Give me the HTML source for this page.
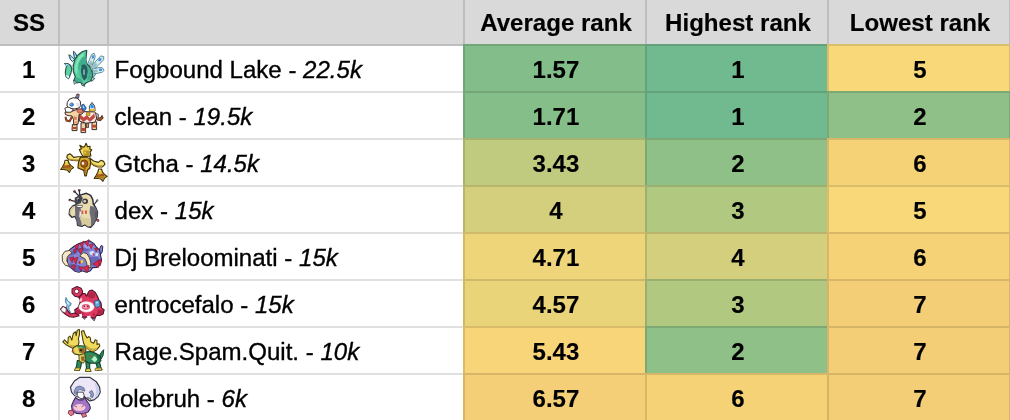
<!DOCTYPE html><html><head><meta charset="utf-8"><title>SS</title><style>
html,body{margin:0;padding:0;background:#fff;}
body{width:1010px;height:420px;overflow:hidden;position:relative;font-family:"Liberation Sans",Arial,sans-serif;font-size:24.15px;color:#000;}
.c{position:absolute;box-sizing:border-box;white-space:nowrap;overflow:hidden;}
.c span{display:block;will-change:transform;}
.h span{transform:translate(1.0px,-0.5px);font-size:24.08px;-webkit-text-stroke:0.15px #000;}
.n span{transform:translate(0.9px,0.8px);font-size:24px;-webkit-text-stroke:0.15px #000;}
.t span{font-size:24.05px;transform:translate(0.6px,0.8px);-webkit-text-stroke:0.35px #000;}
.h{background:#d9d9d9;font-weight:bold;text-align:center;}
.n{font-weight:bold;text-align:center;}
.t{text-align:left;padding-left:6px;}
.v{position:absolute;width:2px;background:rgba(0,0,0,0.12);}
.hl{position:absolute;left:0;width:1010px;height:2px;background:rgba(0,0,0,0.12);}
.bg{position:absolute;}
</style></head><body>
<div class="c h" style="left:0;top:0;width:1010px;height:46px"></div>
<div class="c h" style="left:0px;top:0;width:56px;height:45px;line-height:45px"><span>SS</span></div>
<div class="c h" style="left:464px;top:0;width:182px;height:45px;line-height:45px"><span>Average rank</span></div>
<div class="c h" style="left:646px;top:0;width:182px;height:45px;line-height:45px"><span>Highest rank</span></div>
<div class="c h" style="left:828px;top:0;width:182px;height:45px;line-height:45px"><span>Lowest rank</span></div>
<div class="c n" style="left:0px;top:45px;width:55.4px;height:47px;line-height:47px;"><span>1</span></div>
<svg style="position:absolute;left:60px;top:46px;overflow:visible" width="48" height="46" viewBox="0 0 438 420"><g style="filter:blur(0.35px)"><polygon points="288,246 332,246 312,278 284,272" fill="#a8d4d4" stroke="#4f7f88" stroke-width="8" stroke-linejoin="round"/><polygon points="252,168 270,120 290,76 312,66 322,96 306,142 290,188" fill="#d4eeee" stroke="#4f7f88" stroke-width="8" stroke-linejoin="round"/><polygon points="280,192 330,136 372,90 400,98 398,126 350,176 306,218" fill="#d4eeee" stroke="#4f7f88" stroke-width="8" stroke-linejoin="round"/><polygon points="294,212 346,198 386,198 402,222 386,240 336,250 300,256" fill="#d4eeee" stroke="#4f7f88" stroke-width="8" stroke-linejoin="round"/><polygon points="262,170 282,130 296,150 288,186" fill="#8fbfc2"/><polygon points="288,196 326,150 340,170 308,212" fill="#8fbfc2"/><polygon points="300,222 340,212 344,236 304,250" fill="#8fbfc2"/><polygon points="290,88 312,82 310,112 292,116" fill="#4c8fe6"/><polygon points="352,114 380,108 374,140 350,138" fill="#4c8fe6"/><polygon points="356,206 386,208 382,228 356,228" fill="#4c8fe6"/><polygon points="80,80 106,94 132,124 112,142 92,118" fill="#c8eef0" stroke="#27524f" stroke-width="9" stroke-linejoin="round"/><polygon points="122,48 140,62 156,100 134,114 125,80" fill="#c8eef0" stroke="#27524f" stroke-width="9" stroke-linejoin="round"/><polygon points="90,96 104,104 100,120 88,112" fill="#4c8fe6"/><polygon points="128,66 142,76 140,94 128,88" fill="#4c8fe6"/><polygon points="42,160 70,160 98,178 108,210 100,246 88,276 78,298 55,282 48,240 55,200 60,182" fill="#5fd0a0" stroke="#27524f" stroke-width="10" stroke-linejoin="round"/><polygon points="46,162 72,164 84,178 62,186" fill="#cdeef0"/><polygon points="62,170 78,172 74,186 62,184" fill="#4c8fe6"/><polygon points="56,262 84,272 78,296 58,282" fill="#cdeef0"/><polygon points="244,40 206,50 166,80 136,124 120,180 122,235 140,280 128,312 152,336 186,330 212,362 240,336 276,320 298,284 292,236 272,192 246,166 236,130 240,90" fill="#5ccc9e" stroke="#27524f" stroke-width="11" stroke-linejoin="round"/><polygon points="210,64 168,100 144,150 136,210 148,262 160,222 162,170 182,120 220,82" fill="#7fe6b8"/><polygon points="240,90 236,130 246,166 216,170 186,186 176,230 164,204 174,150 204,104" fill="#3fae8c"/><polygon points="250,185 280,215 288,260 272,305 245,320 258,270 258,225" fill="#3fae8c"/><polygon points="150,285 190,300 215,330 186,328 152,330 134,310" fill="#3fae8c"/><polygon points="196,180 222,168 244,186 250,230 242,292 220,312 200,284 190,232" fill="#245f62" stroke="#27524f" stroke-width="6" stroke-linejoin="round"/><polygon points="210,214 228,214 228,262 210,262" fill="#6faab0"/><polygon points="180,190 196,182 190,232 200,284 214,308 190,296 172,250" fill="#4cc096"/><polygon points="122,312 152,328 132,350" fill="#dff5f0" stroke="#27524f" stroke-width="8" stroke-linejoin="round"/><polygon points="204,338 228,368 198,358" fill="#dff5f0" stroke="#27524f" stroke-width="8" stroke-linejoin="round"/><polygon points="284,284 318,296 290,324" fill="#9fd8d0" stroke="#27524f" stroke-width="8" stroke-linejoin="round"/></g></svg>
<div class="c t" style="left:108px;top:45px;width:356px;height:47px;line-height:47px;"><span>Fogbound Lake - <i>22.5k</i></span></div>
<div class="bg" style="left:463px;top:44px;width:182px;height:47px;background:#82bd8a"></div>
<div class="c n" style="left:464px;top:45px;width:182px;height:47px;line-height:47px;"><span>1.57</span></div>
<div class="bg" style="left:645px;top:44px;width:182px;height:47px;background:#71b98e"></div>
<div class="c n" style="left:646px;top:45px;width:182px;height:47px;line-height:47px;"><span>1</span></div>
<div class="bg" style="left:827px;top:44px;width:184px;height:47px;background:#f8d878"></div>
<div class="c n" style="left:828px;top:45px;width:182px;height:47px;line-height:47px;"><span>5</span></div>
<div class="c n" style="left:0px;top:92px;width:55.4px;height:47px;line-height:47px;"><span>2</span></div>
<svg style="position:absolute;left:62px;top:93px;overflow:visible" width="44" height="42" viewBox="0 0 440 420"><g style="filter:blur(0.35px)"><polygon points="350,245 384,250 400,224 412,250 386,278 350,270" fill="#a85428" stroke="#4a2410" stroke-width="9" stroke-linejoin="round"/><polygon points="334,198 366,214 360,262 336,256" fill="#b4b4b8" stroke="#4a4a50" stroke-width="8" stroke-linejoin="round"/><polygon points="104,315 150,315 150,376 100,376" fill="#f3cfa0" stroke="#3a2c2c" stroke-width="10" stroke-linejoin="round"/><polygon points="104,340 150,340 150,360 102,360" fill="#b84a34"/><polygon points="244,298 266,298 266,346 244,346" fill="#c89870" stroke="#3a2c2c" stroke-width="8" stroke-linejoin="round"/><polygon points="190,298 236,298 236,396 190,396" fill="#f3cfa0" stroke="#3a2c2c" stroke-width="10" stroke-linejoin="round"/><polygon points="191,350 235,350 235,380 191,380" fill="#b84a34"/><polygon points="300,288 346,288 346,366 300,366" fill="#f3cfa0" stroke="#3a2c2c" stroke-width="10" stroke-linejoin="round"/><polygon points="301,318 345,318 345,346 301,346" fill="#b84a34"/><polygon points="178,198 230,186 330,190 346,250 330,292 240,302 176,282" fill="#fbeee6" stroke="#3a2c2c" stroke-width="10" stroke-linejoin="round"/><polygon points="176,208 216,244 250,220 276,250 322,206 330,244 280,290 250,262 216,290 176,252" fill="#c04a40"/><polygon points="300,196 330,196 340,236 322,214" fill="#e8b090"/><polygon points="244,194 280,198 278,226 244,220" fill="#f0b820" stroke="#805010" stroke-width="6" stroke-linejoin="round"/><polygon points="198,120 216,112 242,150 226,178 198,162" fill="#2f8fe8" stroke="#1c3c70" stroke-width="9" stroke-linejoin="round"/><polygon points="206,130 216,126 226,148 212,150" fill="#a8d8ff"/><polygon points="274,132 300,94 326,130 332,178 274,178" fill="#ffffff" stroke="#3a2c2c" stroke-width="9" stroke-linejoin="round"/><polygon points="284,126 300,104 318,130 318,152 284,152" fill="#2f8fe8"/><polygon points="276,160 330,160 331,178 276,178" fill="#f0c020"/><polygon points="30,190 90,186 150,164 196,160 216,186 200,210 170,216 166,260 160,312 118,320 114,262 100,230 60,226 34,214" fill="#f5d2a0" stroke="#3a2c2c" stroke-width="10" stroke-linejoin="round"/><polygon points="150,162 200,160 208,190 172,202 152,190" fill="#e07a68" stroke="#8a3028" stroke-width="6" stroke-linejoin="round"/><polygon points="118,232 150,240 146,272 120,266" fill="#d8805c"/><polygon points="124,285 156,280 154,305 122,308" fill="#e0a078"/><polyline points="36,246 46,276 76,282 96,246" fill="none" stroke="#4a2410" stroke-width="20" stroke-linecap="round" stroke-linejoin="round"/><polyline points="36,246 46,276 76,282 96,246" fill="none" stroke="#a85428" stroke-width="11" stroke-linecap="round" stroke-linejoin="round"/><polygon points="134,48 150,10 172,14 166,52" fill="#d9534a" stroke="#3a2c2c" stroke-width="8" stroke-linejoin="round"/><polygon points="144,26 168,24 166,40 140,42" fill="#3d8ee0"/><polygon points="52,96 70,64 110,48 150,52 182,80 188,124 170,150 120,160 70,150 50,130" fill="#ffffff" stroke="#3a2c2c" stroke-width="10" stroke-linejoin="round"/><polygon points="28,152 60,140 112,164 92,192 40,192" fill="#ffffff" stroke="#3a2c2c" stroke-width="9" stroke-linejoin="round"/><ellipse cx="96" cy="116" rx="19" ry="17" fill="#2f8fe8" stroke="#1c3c70" stroke-width="6"/><ellipse cx="88" cy="110" rx="6" ry="5" fill="#ffffff"/><polygon points="140,100 176,96 180,130 150,140" fill="#e4e4ec"/></g></svg>
<div class="c t" style="left:108px;top:92px;width:356px;height:47px;line-height:47px;"><span>clean - <i>19.5k</i></span></div>
<div class="bg" style="left:463px;top:91px;width:182px;height:47px;background:#86be89"></div>
<div class="c n" style="left:464px;top:92px;width:182px;height:47px;line-height:47px;"><span>1.71</span></div>
<div class="bg" style="left:645px;top:91px;width:182px;height:47px;background:#71b98e"></div>
<div class="c n" style="left:646px;top:92px;width:182px;height:47px;line-height:47px;"><span>1</span></div>
<div class="bg" style="left:827px;top:91px;width:184px;height:47px;background:#8fc087"></div>
<div class="c n" style="left:828px;top:92px;width:182px;height:47px;line-height:47px;"><span>2</span></div>
<div class="c n" style="left:0px;top:139px;width:55.4px;height:47px;line-height:47px;"><span>3</span></div>
<svg style="position:absolute;left:58px;top:140px;overflow:visible" width="50" height="44" viewBox="0 0 477 420"><g style="filter:blur(0.35px)"><polygon points="236,160 190,160 150,166 132,146 112,132 88,146 84,166 100,186 140,196 190,198 226,192" fill="#f0e070" stroke="#3e300a" stroke-width="11" stroke-linejoin="round"/><polygon points="104,176 140,184 190,186 228,180 226,192 190,198 140,196 100,188" fill="#b08c28"/><polygon points="304,174 340,200 384,214 408,194 436,204 448,232 424,256 380,258 340,242 304,216" fill="#f0e070" stroke="#3e300a" stroke-width="11" stroke-linejoin="round"/><polygon points="308,204 342,228 382,244 424,240 424,256 380,258 340,242 304,216" fill="#b08c28"/><polygon points="214,164 300,164 312,214 302,270 282,286 270,342 256,342 246,290 214,276 190,266 196,214" fill="#d8ac2c" stroke="#3e300a" stroke-width="11" stroke-linejoin="round"/><ellipse cx="250" cy="226" rx="34" ry="36" fill="#a85a18" stroke="#4e2a0a" stroke-width="7"/><ellipse cx="238" cy="224" rx="12" ry="13" fill="#ffffff"/><polygon points="246,262 264,262 264,322 252,322" fill="#a85a18"/><polygon points="204,92 224,84 208,50 240,70 254,62 268,32 282,64 306,60 304,86 322,94 306,116 314,152 240,158 222,130" fill="#e8cc48" stroke="#3e300a" stroke-width="11" stroke-linejoin="round"/><polygon points="238,100 300,100 302,150 242,154" fill="#b8922c"/><polygon points="222,96 240,98 242,150 228,130" fill="#f8e880"/><polygon points="250,112 268,110 268,128 250,128" fill="#e8cc48"/><ellipse cx="294" cy="166" rx="10" ry="12" fill="#d8d0a8" stroke="#3e300a" stroke-width="6"/><polygon points="68,194 96,194 104,222 122,242 148,264 126,276 108,310 88,288 58,280 26,282 42,258 60,224" fill="#e8cc48" stroke="#3e300a" stroke-width="11" stroke-linejoin="round"/><polygon points="52,240 116,238 128,264 42,268" fill="#9c5416"/><polygon points="58,242 88,240 88,252 54,254" fill="#c07828"/><polygon points="42,270 128,266 142,266 124,274 108,304 88,286 58,278 32,280" fill="#a88424"/><ellipse cx="79" cy="206" rx="9" ry="9" fill="#f8ec90"/><polygon points="388,278 416,278 424,306 442,326 468,348 446,360 428,394 408,372 378,364 346,366 362,342 380,308" fill="#e8cc48" stroke="#3e300a" stroke-width="11" stroke-linejoin="round"/><polygon points="372,324 436,322 448,348 362,352" fill="#9c5416"/><polygon points="378,326 408,324 408,336 374,338" fill="#c07828"/><polygon points="362,354 448,350 462,350 444,358 428,388 408,370 378,362 352,364" fill="#a88424"/><ellipse cx="399" cy="290" rx="9" ry="9" fill="#f8ec90"/></g></svg>
<div class="c t" style="left:108px;top:139px;width:356px;height:47px;line-height:47px;"><span>Gtcha - <i>14.5k</i></span></div>
<div class="bg" style="left:463px;top:138px;width:182px;height:47px;background:#c0cb7f"></div>
<div class="c n" style="left:464px;top:139px;width:182px;height:47px;line-height:47px;"><span>3.43</span></div>
<div class="bg" style="left:645px;top:138px;width:182px;height:47px;background:#8fc087"></div>
<div class="c n" style="left:646px;top:139px;width:182px;height:47px;line-height:47px;"><span>2</span></div>
<div class="bg" style="left:827px;top:138px;width:184px;height:47px;background:#f6d277"></div>
<div class="c n" style="left:828px;top:139px;width:182px;height:47px;line-height:47px;"><span>6</span></div>
<div class="c n" style="left:0px;top:186px;width:55.4px;height:47px;line-height:47px;"><span>4</span></div>
<svg style="position:absolute;left:64px;top:187px;overflow:visible" width="40" height="44" viewBox="0 0 382 420"><g style="filter:blur(0.35px)"><polyline points="140,84 102,44" fill="none" stroke="#2e2e38" stroke-width="12" stroke-linecap="round" stroke-linejoin="round"/><polyline points="150,78 146,34" fill="none" stroke="#2e2e38" stroke-width="12" stroke-linecap="round" stroke-linejoin="round"/><polyline points="112,140 58,126" fill="none" stroke="#2e2e38" stroke-width="12" stroke-linecap="round" stroke-linejoin="round"/><polyline points="284,172 316,130" fill="none" stroke="#2e2e38" stroke-width="11" stroke-linecap="round" stroke-linejoin="round"/><polyline points="294,308 326,320" fill="none" stroke="#2e2e38" stroke-width="11" stroke-linecap="round" stroke-linejoin="round"/><ellipse cx="100" cy="42" rx="12" ry="12" fill="#3a3038"/><ellipse cx="106" cy="36" rx="6" ry="6" fill="#e06a58"/><ellipse cx="146" cy="30" rx="12" ry="12" fill="#3a3038"/><ellipse cx="150" cy="26" rx="6" ry="6" fill="#e06a58"/><ellipse cx="56" cy="124" rx="13" ry="13" fill="#3a3038"/><ellipse cx="60" cy="128" rx="7" ry="7" fill="#e06a58"/><ellipse cx="318" cy="128" rx="9" ry="9" fill="#9a98a4" stroke="#2e2e38" stroke-width="4"/><ellipse cx="324" cy="320" rx="11" ry="11" fill="#e03838" stroke="#2e2e38" stroke-width="5"/><polygon points="160,75 215,60 255,80 275,120 280,165 300,190 320,240 315,290 300,320 285,350 255,385 225,380 200,360 170,375 130,365 125,320 105,280 75,290 50,260 55,215 85,180 115,170 125,130 135,95" fill="#e8dcb0" stroke="#2e2e38" stroke-width="14" stroke-linejoin="round"/><polygon points="104,100 160,76 180,104 160,156 116,172 100,142" fill="#44444e"/><polygon points="120,110 140,100 146,120 128,132" fill="#a0a0a8"/><polygon points="104,182 156,186 166,250 156,300 172,340 174,374 130,366 124,320 108,282" fill="#6e6a76"/><polygon points="250,180 300,194 320,240 314,292 300,320 286,348 256,382 256,300 244,240" fill="#6e6a76"/><polygon points="296,230 318,244 312,292 296,300" fill="#5a5862"/><polygon points="56,216 84,184 100,190 74,222 62,262 52,258" fill="#d4c89c"/><polygon points="150,292 250,300 252,372 226,376 200,356 170,370 166,340" fill="#d8cc9e"/><ellipse cx="202" cy="136" rx="27" ry="26" fill="#3a3a44"/><ellipse cx="198" cy="136" rx="13" ry="12" fill="#e0d8b4"/><ellipse cx="140" cy="124" rx="9" ry="10" fill="#22222a"/><polygon points="122,176 176,176 172,196 126,196" fill="#ffffff" stroke="#2e2e38" stroke-width="6" stroke-linejoin="round"/><polygon points="166,224 186,224 184,258 168,258" fill="#e05a48"/><polygon points="200,224 220,224 218,258 202,258" fill="#e05a48"/><polygon points="148,226 166,236 162,288 144,288" fill="#f4f4f4" stroke="#8a8890" stroke-width="4" stroke-linejoin="round"/></g></svg>
<div class="c t" style="left:108px;top:186px;width:356px;height:47px;line-height:47px;"><span>dex - <i>15k</i></span></div>
<div class="bg" style="left:463px;top:185px;width:182px;height:47px;background:#d4cf7c"></div>
<div class="c n" style="left:464px;top:186px;width:182px;height:47px;line-height:47px;"><span>4</span></div>
<div class="bg" style="left:645px;top:185px;width:182px;height:47px;background:#b1c881"></div>
<div class="c n" style="left:646px;top:186px;width:182px;height:47px;line-height:47px;"><span>3</span></div>
<div class="bg" style="left:827px;top:185px;width:184px;height:47px;background:#f8d878"></div>
<div class="c n" style="left:828px;top:186px;width:182px;height:47px;line-height:47px;"><span>5</span></div>
<div class="c n" style="left:0px;top:233px;width:55.4px;height:47px;line-height:47px;"><span>5</span></div>
<svg style="position:absolute;left:58px;top:236px;overflow:visible" width="50" height="44" viewBox="0 0 477 420"><g style="filter:blur(0.35px)"><polygon points="392,134 412,90 428,98 422,152 404,180" fill="#8583d6" stroke="#26244c" stroke-width="9" stroke-linejoin="round"/><polygon points="84,200 110,132 150,100 200,72 250,56 300,46 340,70 370,110 396,132 406,186 416,230 400,280 370,300 330,302 310,332 270,346 230,332 200,346 160,336 120,302 92,280" fill="#8583d6" stroke="#26244c" stroke-width="10" stroke-linejoin="round"/><polygon points="120,190 200,150 290,140 300,120 200,112 130,150" fill="#6462b4"/><polygon points="300,200 380,200 404,232 394,276 340,290 300,260" fill="#6866b8"/><polygon points="110,260 200,280 230,330 200,344 160,334 120,300" fill="#6462b4"/><polygon points="240,90 300,70 340,90 330,120 270,120" fill="#a4a2ec"/><polygon points="40,184 66,146 110,138 134,162 106,180 88,204 84,238 98,266 110,290 70,280 42,240" fill="#f6e6c8" stroke="#4a3c2a" stroke-width="9" stroke-linejoin="round"/><polygon points="208,190 240,158 276,168 300,208 312,250 314,300 282,304 272,252 256,216 230,204" fill="#f6e6c8" stroke="#4a3c2a" stroke-width="9" stroke-linejoin="round"/><polygon points="159,97 203,71 182,134" fill="#e02848" stroke="#70142c" stroke-width="5" stroke-linejoin="round"/><polygon points="210,77 244,49 231,114" fill="#e02848" stroke="#70142c" stroke-width="5" stroke-linejoin="round"/><polygon points="257,61 296,33 285,100" fill="#e02848" stroke="#70142c" stroke-width="5" stroke-linejoin="round"/><polygon points="295,83 337,76 318,125" fill="#e02848" stroke="#70142c" stroke-width="5" stroke-linejoin="round"/><polygon points="195,128 242,112 216,174" fill="#e02848" stroke="#70142c" stroke-width="5" stroke-linejoin="round"/><polygon points="146,128 180,117 159,167" fill="#e02848" stroke="#70142c" stroke-width="5" stroke-linejoin="round"/><polygon points="109,207 150,199 135,256" fill="#e02848" stroke="#70142c" stroke-width="5" stroke-linejoin="round"/><polygon points="144,217 191,204 170,267" fill="#e02848" stroke="#70142c" stroke-width="5" stroke-linejoin="round"/><polygon points="124,288 166,275 158,329" fill="#e02848" stroke="#70142c" stroke-width="5" stroke-linejoin="round"/><polygon points="231,300 298,281 283,349" fill="#e02848" stroke="#70142c" stroke-width="5" stroke-linejoin="round"/><polygon points="335,266 403,225 384,305" fill="#e02848" stroke="#70142c" stroke-width="5" stroke-linejoin="round"/><polygon points="379,233 416,228 405,280" fill="#e02848" stroke="#70142c" stroke-width="5" stroke-linejoin="round"/><polygon points="200,292 236,297 220,339" fill="#e02848" stroke="#70142c" stroke-width="5" stroke-linejoin="round"/><polygon points="348,118 379,115 366,151" fill="#e02848" stroke="#70142c" stroke-width="5" stroke-linejoin="round"/><polygon points="300,150 336,140 350,166 330,186 304,176" fill="#d0e4fc"/><polygon points="356,166 386,160 380,192 358,190" fill="#d0e4fc"/><polygon points="330,166 346,164 344,184 332,184" fill="#d02040"/><polygon points="214,234 236,224 240,256 214,262" fill="#f0d020"/><polygon points="196,246 214,240 214,266 200,262" fill="#b01428"/></g></svg>
<div class="c t" style="left:108px;top:233px;width:356px;height:47px;line-height:47px;"><span>Dj Breloominati - <i>15k</i></span></div>
<div class="bg" style="left:463px;top:232px;width:182px;height:47px;background:#eed579"></div>
<div class="c n" style="left:464px;top:233px;width:182px;height:47px;line-height:47px;"><span>4.71</span></div>
<div class="bg" style="left:645px;top:232px;width:182px;height:47px;background:#d4cf7c"></div>
<div class="c n" style="left:646px;top:233px;width:182px;height:47px;line-height:47px;"><span>4</span></div>
<div class="bg" style="left:827px;top:232px;width:184px;height:47px;background:#f6d277"></div>
<div class="c n" style="left:828px;top:233px;width:182px;height:47px;line-height:47px;"><span>6</span></div>
<div class="c n" style="left:0px;top:280px;width:55.4px;height:47px;line-height:47px;"><span>6</span></div>
<svg style="position:absolute;left:58px;top:283px;overflow:visible" width="50" height="44" viewBox="0 0 477 420"><g style="filter:blur(0.35px)"><polygon points="76,138 92,170 126,194 120,216 102,226 106,256 122,282 96,276 80,246 86,206 70,180" fill="#8cc8e8" stroke="#2e6488" stroke-width="7" stroke-linejoin="round"/><polygon points="84,170 104,190 98,210 88,200" fill="#d8f0fc"/><polygon points="192,298 160,286 120,296 96,272 76,236 46,224 24,250 40,272 74,302 110,322 150,326 200,312" fill="#dc3860" stroke="#56102a" stroke-width="10" stroke-linejoin="round"/><polygon points="26,250 50,226 80,246 72,284 42,274" fill="#ffffff" stroke="#5a4050" stroke-width="6" stroke-linejoin="round"/><polygon points="224,322 266,322 256,348" fill="#8898b8" stroke="#56102a" stroke-width="6" stroke-linejoin="round"/><polygon points="320,338 356,338 346,362" fill="#8898b8" stroke="#56102a" stroke-width="6" stroke-linejoin="round"/><polygon points="134,56 180,34 220,50 236,80 226,116 200,136 160,126 134,96" fill="#dc3860" stroke="#56102a" stroke-width="10" stroke-linejoin="round"/><polygon points="200,136 236,100 258,100 272,126 288,92 300,74 326,68 356,90 376,126 390,160 410,190 416,240 440,256 430,296 400,310 370,306 350,336 300,322 260,326 220,320 190,300 166,286 160,256 190,236 206,200 214,170" fill="#dc3860" stroke="#56102a" stroke-width="11" stroke-linejoin="round"/><polygon points="290,96 330,84 356,110 350,140 310,150 284,130" fill="#b02448"/><polygon points="380,250 430,262 424,294 396,304 370,300" fill="#b02448"/><polygon points="170,262 210,250 250,300 220,316 190,298 168,284" fill="#b02448"/><ellipse cx="178" cy="80" rx="21" ry="21" fill="#ffffff" stroke="#56102a" stroke-width="8"/><polygon points="200,300 226,290 232,322 212,330" fill="#ffffff"/><polygon points="276,316 312,312 308,336 284,338" fill="#ffffff"/><polygon points="206,150 232,140 226,176 210,180" fill="#f6c8d4"/><ellipse cx="272" cy="228" rx="72" ry="48" fill="#ffffff" stroke="#fbe4ea" stroke-width="8"/><ellipse cx="266" cy="228" rx="40" ry="27" fill="#e4607e"/><ellipse cx="262" cy="226" rx="22" ry="15" fill="#f4a0b4"/><polygon points="246,214 258,216 256,228 246,226" fill="#56102a"/><polygon points="278,214 290,216 288,228 278,226" fill="#56102a"/><polygon points="350,170 396,164 402,216 372,236 350,216" fill="#5cacdc" stroke="#204c78" stroke-width="7" stroke-linejoin="round"/><polygon points="360,180 380,178 378,196 360,196" fill="#b8e0f8"/><polygon points="330,290 352,286 350,316 334,316" fill="#c02040"/></g></svg>
<div class="c t" style="left:108px;top:280px;width:356px;height:47px;line-height:47px;"><span>entrocefalo - <i>15k</i></span></div>
<div class="bg" style="left:463px;top:279px;width:182px;height:47px;background:#e9d479"></div>
<div class="c n" style="left:464px;top:280px;width:182px;height:47px;line-height:47px;"><span>4.57</span></div>
<div class="bg" style="left:645px;top:279px;width:182px;height:47px;background:#b1c881"></div>
<div class="c n" style="left:646px;top:280px;width:182px;height:47px;line-height:47px;"><span>3</span></div>
<div class="bg" style="left:827px;top:279px;width:184px;height:47px;background:#f4cd77"></div>
<div class="c n" style="left:828px;top:280px;width:182px;height:47px;line-height:47px;"><span>7</span></div>
<div class="c n" style="left:0px;top:327px;width:55.4px;height:47px;line-height:47px;"><span>7</span></div>
<svg style="position:absolute;left:58px;top:328px;overflow:visible" width="50" height="46" viewBox="0 0 457 420"><g style="filter:blur(0.35px)"><polygon points="378,252 404,212 418,198 412,250 394,282" fill="#2c8c5c" stroke="#163c2c" stroke-width="9" stroke-linejoin="round"/><polygon points="344,314 380,310 390,356 402,382 360,386 356,350" fill="#2c8c5c" stroke="#163c2c" stroke-width="10" stroke-linejoin="round"/><polygon points="340,368 396,364 402,384 338,388" fill="#f0dc5c" stroke="#4a3e0c" stroke-width="6" stroke-linejoin="round"/><polygon points="176,298 216,298 210,350 196,386 154,386 170,350" fill="#2c8c5c" stroke="#163c2c" stroke-width="10" stroke-linejoin="round"/><polygon points="158,366 202,364 196,388 152,388" fill="#f0dc5c" stroke="#4a3e0c" stroke-width="6" stroke-linejoin="round"/><polygon points="254,308 290,314 290,370 300,396 254,396 260,360" fill="#2c8c5c" stroke="#163c2c" stroke-width="10" stroke-linejoin="round"/><polygon points="256,374 294,372 302,398 252,398" fill="#f0dc5c" stroke="#4a3e0c" stroke-width="6" stroke-linejoin="round"/><polygon points="240,220 300,214 350,234 386,256 392,300 360,322 290,322 250,302" fill="#2c8c5c" stroke="#163c2c" stroke-width="10" stroke-linejoin="round"/><polygon points="304,286 336,254 362,286 336,312" fill="#b8f0c8"/><polygon points="286,246 316,250 314,270 290,268" fill="#8a6428"/><polygon points="350,240 384,258 388,296 366,300" fill="#1e6a48"/><polygon points="190,238 242,228 252,282 232,322 194,302" fill="#e0d060" stroke="#4a3e0c" stroke-width="8" stroke-linejoin="round"/><polygon points="210,262 244,258 240,300 214,300" fill="#8a6428"/><polygon points="44,126 60,108 90,140 94,86 110,74 126,110 140,50 160,34 166,70 176,20 196,14 196,60 186,100 192,130 182,170 160,196 130,182 100,166 70,150" fill="#f0dc5c" stroke="#4a3e0c" stroke-width="10" stroke-linejoin="round"/><polygon points="214,30 236,24 250,64 266,90 280,78 296,90 300,126 326,140 340,108 356,114 356,150 376,144 382,166 356,196 320,216 284,200 254,176 234,140 224,90" fill="#f0dc5c" stroke="#4a3e0c" stroke-width="10" stroke-linejoin="round"/><polygon points="100,150 150,160 180,150 178,170 160,192 130,180" fill="#c8b040"/><polygon points="250,150 290,180 330,190 356,180 354,196 320,214 284,200 254,176" fill="#c8b040"/><polygon points="140,180 176,160 240,164 256,200 240,232 196,246 150,236 130,214" fill="#e8d860" stroke="#4a3e0c" stroke-width="10" stroke-linejoin="round"/><polygon points="176,162 240,164 252,190 214,178 180,180" fill="#2c8c5c"/><polygon points="186,186 236,182 248,206 232,228 196,226" fill="#8a6428"/><ellipse cx="140" cy="212" rx="9" ry="8" fill="#f06040"/><ellipse cx="210" cy="202" rx="10" ry="9" fill="#1c140a"/></g></svg>
<div class="c t" style="left:108px;top:327px;width:356px;height:47px;line-height:47px;"><span>Rage.Spam.Quit. - <i>10k</i></span></div>
<div class="bg" style="left:463px;top:326px;width:182px;height:47px;background:#f7d578"></div>
<div class="c n" style="left:464px;top:327px;width:182px;height:47px;line-height:47px;"><span>5.43</span></div>
<div class="bg" style="left:645px;top:326px;width:182px;height:47px;background:#8fc087"></div>
<div class="c n" style="left:646px;top:327px;width:182px;height:47px;line-height:47px;"><span>2</span></div>
<div class="bg" style="left:827px;top:326px;width:184px;height:47px;background:#f4cd77"></div>
<div class="c n" style="left:828px;top:327px;width:182px;height:47px;line-height:47px;"><span>7</span></div>
<div class="c n" style="left:0px;top:374px;width:55.4px;height:47px;line-height:47px;"><span>8</span></div>
<svg style="position:absolute;left:58px;top:374px;overflow:visible" width="50" height="46" viewBox="0 0 457 420"><g style="filter:blur(0.35px)"><polygon points="160,214 190,236 226,236 246,214 262,246 286,276 296,312 276,346 236,366 170,360 130,336 124,290 140,250" fill="#a274c8" stroke="#3c2854" stroke-width="10" stroke-linejoin="round"/><ellipse cx="196" cy="306" rx="55" ry="32" fill="#f8c8d4"/><polyline points="154,292 170,300" fill="none" stroke="#5a3050" stroke-width="6" stroke-linecap="round" stroke-linejoin="round"/><polyline points="218,298 234,290" fill="none" stroke="#5a3050" stroke-width="6" stroke-linecap="round" stroke-linejoin="round"/><polygon points="98,336 136,330 146,366 116,382 94,360" fill="#e4788e" stroke="#74303e" stroke-width="8" stroke-linejoin="round"/><polygon points="214,366 250,356 262,386 226,396" fill="#e4788e" stroke="#74303e" stroke-width="8" stroke-linejoin="round"/><polygon points="200,30 290,30 350,70 380,120 386,166 366,206 330,236 290,246 264,226 240,206 206,216 176,206 150,196 124,166 114,120 150,64" fill="#ece6f6" stroke="#383844" stroke-width="11" stroke-linejoin="round"/><polygon points="330,70 372,122 378,166 360,204 328,230 344,190 350,140" fill="#c8d0f0"/><polygon points="124,150 150,190 176,204 206,214 170,186 140,150" fill="#d0d4f0"/><polygon points="150,150 166,120 200,110 236,126 246,156 226,150 200,140 176,156 170,186 150,176" fill="#8c9cc8" stroke="#485078" stroke-width="6" stroke-linejoin="round"/><polygon points="284,166 310,150 326,186 316,216 296,206 302,186" fill="#8c9cc8" stroke="#485078" stroke-width="6" stroke-linejoin="round"/><polygon points="176,166 230,166 240,200 226,226 196,220 176,196" fill="#ffffff" stroke="#383844" stroke-width="8" stroke-linejoin="round"/><polygon points="270,214 300,226 286,246" fill="#ffffff" stroke="#383844" stroke-width="7" stroke-linejoin="round"/></g></svg>
<div class="c t" style="left:108px;top:374px;width:356px;height:47px;line-height:47px;"><span>lolebruh - <i>6k</i></span></div>
<div class="bg" style="left:463px;top:373px;width:182px;height:47px;background:#f5cf77"></div>
<div class="c n" style="left:464px;top:374px;width:182px;height:47px;line-height:47px;"><span>6.57</span></div>
<div class="bg" style="left:645px;top:373px;width:182px;height:47px;background:#f6d277"></div>
<div class="c n" style="left:646px;top:374px;width:182px;height:47px;line-height:47px;"><span>6</span></div>
<div class="bg" style="left:827px;top:373px;width:184px;height:47px;background:#f4cd77"></div>
<div class="c n" style="left:828px;top:374px;width:182px;height:47px;line-height:47px;"><span>7</span></div>
<div class="v" style="left:58px;top:0;height:44px"></div>
<div class="v" style="left:58px;top:46px;height:45px"></div>
<div class="v" style="left:58px;top:93px;height:45px"></div>
<div class="v" style="left:58px;top:140px;height:45px"></div>
<div class="v" style="left:58px;top:187px;height:45px"></div>
<div class="v" style="left:58px;top:234px;height:45px"></div>
<div class="v" style="left:58px;top:281px;height:45px"></div>
<div class="v" style="left:58px;top:328px;height:45px"></div>
<div class="v" style="left:58px;top:375px;height:45px"></div>
<div class="v" style="left:107px;top:0;height:44px"></div>
<div class="v" style="left:107px;top:46px;height:45px"></div>
<div class="v" style="left:107px;top:93px;height:45px"></div>
<div class="v" style="left:107px;top:140px;height:45px"></div>
<div class="v" style="left:107px;top:187px;height:45px"></div>
<div class="v" style="left:107px;top:234px;height:45px"></div>
<div class="v" style="left:107px;top:281px;height:45px"></div>
<div class="v" style="left:107px;top:328px;height:45px"></div>
<div class="v" style="left:107px;top:375px;height:45px"></div>
<div class="v" style="left:463px;top:0;height:44px"></div>
<div class="v" style="left:463px;top:46px;height:45px"></div>
<div class="v" style="left:463px;top:93px;height:45px"></div>
<div class="v" style="left:463px;top:140px;height:45px"></div>
<div class="v" style="left:463px;top:187px;height:45px"></div>
<div class="v" style="left:463px;top:234px;height:45px"></div>
<div class="v" style="left:463px;top:281px;height:45px"></div>
<div class="v" style="left:463px;top:328px;height:45px"></div>
<div class="v" style="left:463px;top:375px;height:45px"></div>
<div class="v" style="left:645px;top:0;height:44px"></div>
<div class="v" style="left:645px;top:46px;height:45px"></div>
<div class="v" style="left:645px;top:93px;height:45px"></div>
<div class="v" style="left:645px;top:140px;height:45px"></div>
<div class="v" style="left:645px;top:187px;height:45px"></div>
<div class="v" style="left:645px;top:234px;height:45px"></div>
<div class="v" style="left:645px;top:281px;height:45px"></div>
<div class="v" style="left:645px;top:328px;height:45px"></div>
<div class="v" style="left:645px;top:375px;height:45px"></div>
<div class="v" style="left:827px;top:0;height:44px"></div>
<div class="v" style="left:827px;top:46px;height:45px"></div>
<div class="v" style="left:827px;top:93px;height:45px"></div>
<div class="v" style="left:827px;top:140px;height:45px"></div>
<div class="v" style="left:827px;top:187px;height:45px"></div>
<div class="v" style="left:827px;top:234px;height:45px"></div>
<div class="v" style="left:827px;top:281px;height:45px"></div>
<div class="v" style="left:827px;top:328px;height:45px"></div>
<div class="v" style="left:827px;top:375px;height:45px"></div>
<div class="v" style="left:1009px;top:0;height:44px"></div>
<div class="v" style="left:1009px;top:46px;height:45px"></div>
<div class="v" style="left:1009px;top:93px;height:45px"></div>
<div class="v" style="left:1009px;top:140px;height:45px"></div>
<div class="v" style="left:1009px;top:187px;height:45px"></div>
<div class="v" style="left:1009px;top:234px;height:45px"></div>
<div class="v" style="left:1009px;top:281px;height:45px"></div>
<div class="v" style="left:1009px;top:328px;height:45px"></div>
<div class="v" style="left:1009px;top:375px;height:45px"></div>
<div class="hl" style="top:44px"></div>
<div class="hl" style="top:91px"></div>
<div class="hl" style="top:138px"></div>
<div class="hl" style="top:185px"></div>
<div class="hl" style="top:232px"></div>
<div class="hl" style="top:279px"></div>
<div class="hl" style="top:326px"></div>
<div class="hl" style="top:373px"></div>
<div class="hl" style="top:420px"></div>
</body></html>
